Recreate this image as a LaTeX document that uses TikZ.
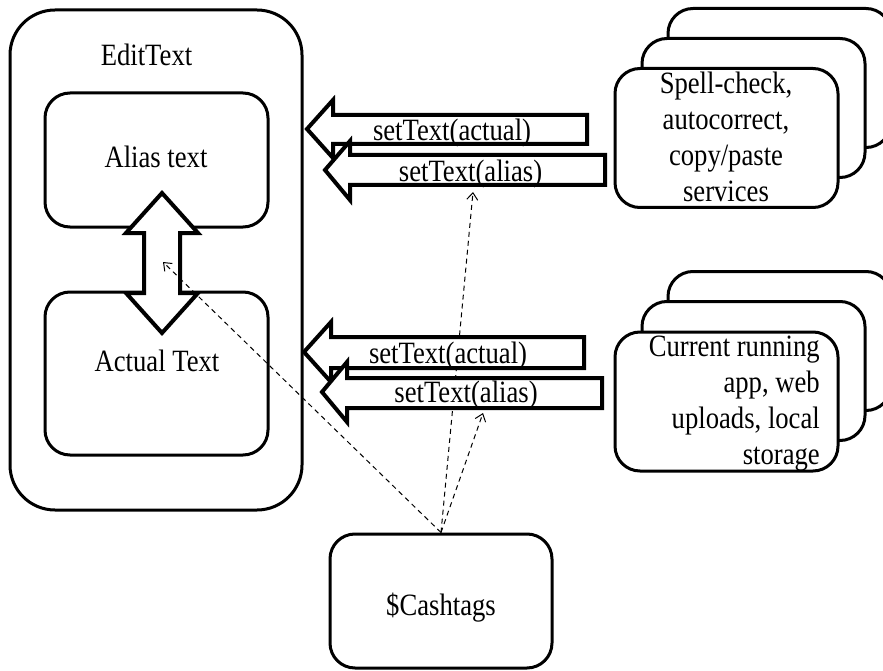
\documentclass[tikz,border=0pt]{standalone}
\usepackage{fontspec}
\setmainfont{Liberation Serif}[FakeStretch=0.86]
\usetikzlibrary{arrows.meta}
\tikzset{
  box/.style={draw, line width=3, rounded corners=25, fill=white, inner sep=0},
  stackbox/.style={box, minimum width=223, minimum height=139},
  blockarr/.style={draw, line width=4, fill=white, line join=miter},
  lbl/.style={font=\fontsize{31}{36}\selectfont, inner sep=0, anchor=base},
  flow/.style={dashed, dash pattern=on 5pt off 4pt, line width=1,
    -{Straight Barb[length=7pt,width=11pt]}}
}
\begin{document}
\begin{tikzpicture}[x=1pt,y=-1pt]
\useasboundingbox (0,0) rectangle (883,671);

% EditText container with its two inner boxes
\node[box, rounded corners=45, minimum width=292, minimum height=500] (edit) at (156,260) {};
\node[lbl] (edittxt) at (146.5,66) {EditText};
\node[box, minimum width=223, minimum height=134] (alias) at (156.5,160) {};
\node[lbl] (aliastxt) at (156,168) {Alias text};
\node[box, minimum width=223, minimum height=163] (actual) at (156.5,373.5) {};
\node[lbl] (actualtxt) at (157,371) {Actual Text};

% two-way arrow between alias and actual text
\draw[blockarr] (162,193) -- (198,233) -- (180,233) -- (180,293) -- (198,293)
  -- (162,333) -- (126,293) -- (144,293) -- (144,233) -- (126,233) -- cycle;

% service stacks
\node[stackbox] (s3) at (779.5,78) {};
\node[stackbox] (s2) at (753.5,108) {};
\node[stackbox] (s1) at (726.5,138) {};
\node[lbl, align=center, anchor=north] (s1txt) at (726,72) {Spell-check,\\autocorrect,\\copy/paste\\services};

\node[stackbox] (r3) at (779.5,341) {};
\node[stackbox] (r2) at (753.5,371) {};
\node[stackbox] (r1) at (726.5,401.5) {};
\node[lbl, align=right, anchor=north east] (r1txt) at (820,336) {Current running\\app, web\\uploads, local\\storage};

% cashtag source
\node[box, minimum width=222, minimum height=134] (cash) at (441,601) {};
\node[lbl] (cashtxt) at (441,615) {\$Cashtags};

% dashed flows out of the cashtag box
\coordinate (src) at (cash.north);
\coordinate (t1) at (163,262);
\coordinate (t2) at (473,192);
\coordinate (t3) at (483,413);
\draw[flow] (src) -- (t1);
\draw[flow] (src) -- (t2);
\draw[flow] (src) -- (t3);

% setText block arrows, upper pair
\draw[blockarr] (587,115) -- (333,115) -- (333,100) -- (307,129) -- (333,158)
  -- (333,144) -- (587,144) -- cycle;
\node[lbl] (a1) at (452,141) {setText(actual)};
\draw[blockarr] (605,155) -- (350,155) -- (350,141) -- (325,170) -- (350,200)
  -- (350,185) -- (605,185) -- cycle;
\node[lbl] (a2) at (470.5,181.5) {setText(alias)};

% setText block arrows, lower pair
\draw[blockarr] (584,337) -- (331,337) -- (331,322) -- (304,352) -- (331,382)
  -- (331,368) -- (584,368) -- cycle;
\node[lbl] (a3) at (448,363) {setText(actual)};
\draw[blockarr] (602,378) -- (347,378) -- (347,362) -- (322,392) -- (347,422)
  -- (347,408) -- (602,408) -- cycle;
\node[lbl] (a4) at (466,402.5) {setText(alias)};
\end{tikzpicture}
\end{document}
